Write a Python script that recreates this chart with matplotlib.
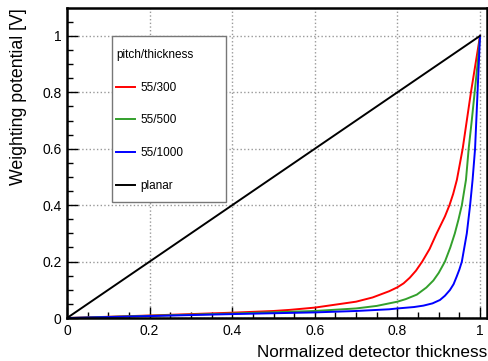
#!/usr/bin/env python

import matplotlib
matplotlib.use("Agg")
import matplotlib.pyplot as plt
from matplotlib.patches import Rectangle
from matplotlib.ticker import MultipleLocator

plt.rcParams['font.family'] = ['Liberation Sans', 'DejaVu Sans']

# values
red_x = [0, 0.2, 0.4, 0.5, 0.54, 0.6, 0.7, 0.74, 0.78, 0.8, 0.815, 0.83, 0.845, 0.86, 0.878, 0.895, 0.905,
         0.915, 0.926, 0.935, 0.944, 0.951, 0.958, 0.968, 0.978, 0.989, 1.0]
red_y = [0, 0.009, 0.019, 0.025, 0.029, 0.037, 0.058, 0.073, 0.095, 0.109, 0.123, 0.143, 0.168, 0.2, 0.245, 0.3, 0.33,
         0.36, 0.4, 0.44, 0.49, 0.545, 0.6, 0.7, 0.8, 0.9, 1.0]

green_x = [0, 0.2, 0.4, 0.6, 0.7, 0.75, 0.78, 0.8, 0.82, 0.847, 0.87, 0.887, 0.9, 0.915, 0.928,
           0.939, 0.948, 0.956, 0.961, 0.966, 0.9725, 0.98, 0.987, 0.994, 1.0]
green_y = [0, 0.008, 0.016, 0.025, 0.034, 0.043, 0.052, 0.058, 0.067, 0.083, 0.108, 0.133, 0.16, 0.2, 0.25,
           0.3, 0.35, 0.4, 0.445, 0.49, 0.6, 0.7, 0.8, 0.9, 1.0]

blue_x = [0, 0.2, 0.4, 0.6, 0.7, 0.78, 0.8, 0.84, 0.863, 0.885, 0.903, 0.915, 0.927, 0.936, 0.9435,
          0.95, 0.956, 0.962, 0.968, 0.972, 0.976, 0.979, 0.982, 0.988, 0.991, 0.994, 0.997, 1.0]
blue_y = [0, 0.007, 0.014, 0.020, 0.025, 0.031, 0.034, 0.039, 0.044, 0.052, 0.064, 0.079, 0.099, 0.12, 0.147,
          0.172, 0.2, 0.25, 0.3, 0.35, 0.4, 0.445, 0.49, 0.6, 0.7, 0.8, 0.9, 1.0]

planar_x = [0, 1]
planar_y = [0, 1]

labels = ["55/300", "55/500", "55/1000", "planar"]
colors = ["#ff0000", "#33a02c", "#0000ff", "#000000"]

fig = plt.figure(figsize=(4.89, 3.61), dpi=100)
ax = fig.add_axes([0.137, 0.119, 0.859, 0.859])

ax.plot(red_x, red_y, color=colors[0], lw=1.4, label=labels[0])
ax.plot(green_x, green_y, color=colors[1], lw=1.4, label=labels[1])
ax.plot(blue_x, blue_y, color=colors[2], lw=1.4, label=labels[2])
ax.plot(planar_x, planar_y, color=colors[3], lw=1.4, label=labels[3])

ax.set_xlim(0, 1.017)
ax.set_ylim(0, 1.099)

ax.xaxis.set_major_locator(MultipleLocator(0.2))
ax.xaxis.set_minor_locator(MultipleLocator(0.05))
ax.yaxis.set_major_locator(MultipleLocator(0.2))
ax.yaxis.set_minor_locator(MultipleLocator(0.05))
ax.xaxis.set_major_formatter(plt.FuncFormatter(lambda v, p: f"{v:g}"))
ax.yaxis.set_major_formatter(plt.FuncFormatter(lambda v, p: f"{v:g}"))

ax.tick_params(which='both', direction='in', top=False, right=False, labelsize=10, colors='black')
ax.tick_params(which='major', length=8, width=1)
ax.tick_params(which='minor', length=4, width=1)
ax.tick_params(axis='x', pad=4)
ax.tick_params(axis='y', pad=4)

ax.grid(True, which='major', color='#999999', linestyle=':', linewidth=1)

for s in ax.spines.values():
    s.set_linewidth(1.8)
    s.set_color('black')

ax.set_xlabel("Normalized detector thickness", fontsize=12.3, loc='right', labelpad=5)
ax.set_ylabel("Weighting potential [V]", fontsize=12.8, loc='top', labelpad=11)

# legend without its own frame, the ROOT-like box is drawn separately
box = Rectangle((112 / 489, 1 - 202 / 361), 114 / 489, 166 / 361,
                transform=fig.transFigure, facecolor='white', edgecolor='#777777',
                linewidth=1, zorder=4, clip_on=False)
ax.add_patch(box)

leg = ax.legend(title="pitch/thickness", loc='upper left',
                bbox_to_anchor=(116 / 489, 1 - 49 / 361), bbox_transform=fig.transFigure,
                borderaxespad=0, borderpad=0, fontsize=8.5, title_fontsize=8.5,
                alignment='left', labelspacing=1.75, handlelength=1.6, handletextpad=0.45,
                frameon=False)
leg.set_zorder(5)

fig.savefig("out.png", dpi=100)
